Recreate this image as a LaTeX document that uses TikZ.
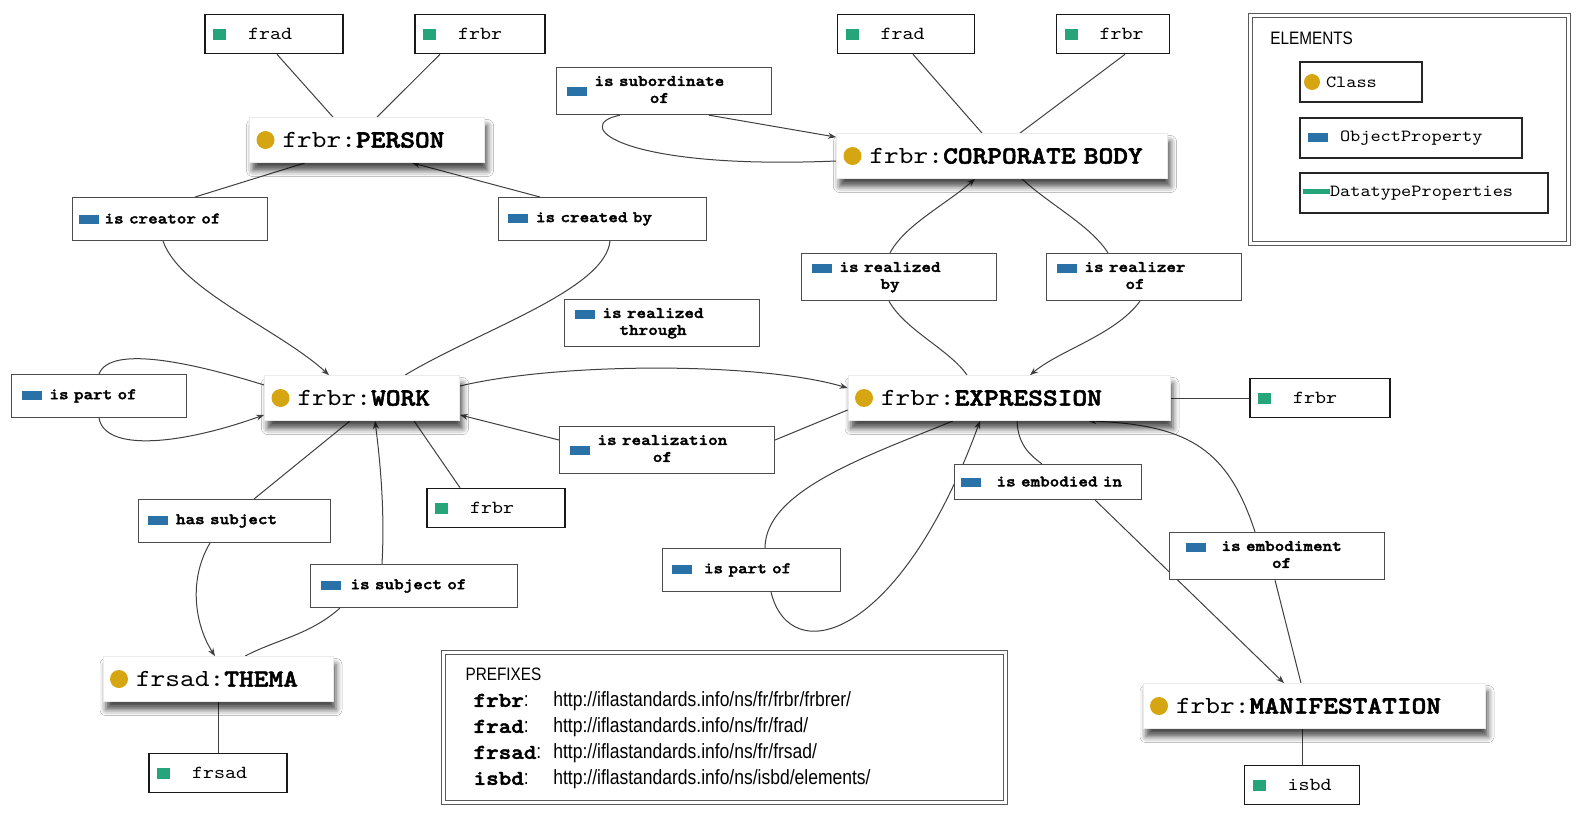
\documentclass[tikz,border=0pt]{standalone}
\usepackage{fontspec}
\usepackage{xcolor}
\newfontfamily\courfont[BoldFont=lmmonolt10-bold.otf, BoldFeatures={FakeBold=2.2}, FakeStretch=1.14]{lmmono10-regular.otf}
\newfontfamily\legfont[FakeStretch=0.85]{Liberation Sans}
\usetikzlibrary{arrows.meta,shadows.blur}

\definecolor{clgold}{RGB}{214,166,18}
\definecolor{opblue}{RGB}{42,113,168}
\definecolor{dpgreen}{RGB}{38,165,122}

\pgfdeclarelayer{bg}
\pgfsetlayers{bg,main}

\newcommand{\opm}{\textcolor{opblue}{\rule[-0.5pt]{10pt}{4.5pt}}}
\newcommand{\dpm}{\textcolor{dpgreen}{\rule[-0.5pt]{6.5pt}{5.5pt}}}
\newcommand{\pfx}[1]{{\fontsize{10.5}{13}\selectfont\courfont\bfseries #1}}

\tikzset{
  cls/.style={fill=white, draw=black!8, text width=#1, inner xsep=0pt,
    minimum height=22.5pt, align=left,
    font=\fontsize{12.3}{14}\selectfont\courfont,
    blur shadow={shadow xshift=1.5pt, shadow yshift=-4pt, shadow blur radius=3pt, shadow opacity=70},
    path picture={\fill[clgold] ([xshift=8pt]path picture bounding box.west) circle (4.5pt);}},
  prop/.style={fill=white, draw=black!70, line width=0.5pt, text width=#1,
    inner xsep=0pt, minimum height=21.5pt, align=left,
    font=\fontsize{8}{8.5}\selectfont\courfont\bfseries},
  dtp/.style={fill=white, draw=black!90, line width=0.8pt, text width=#1,
    inner xsep=0pt, minimum height=19.5pt, align=left,
    font=\fontsize{9.2}{11}\selectfont\courfont},
  leg/.style={fill=white, draw=black!85, line width=0.6pt, text width=#1,
    inner xsep=0pt, minimum height=20pt, align=left,
    font=\fontsize{8.5}{10}\selectfont\courfont},
  legdot/.style={path picture={\fill[clgold] ([xshift=6pt]path picture bounding box.west) circle (4pt);}},
  dblframe/.style={draw=black!65, line width=0.6pt, double=white, double distance=1.5pt},
  rel/.style={draw=black!75, line width=0.5pt},
  relto/.style={rel, -{Stealth[length=4pt,width=3pt]}}
}

\begin{document}
\begin{tikzpicture}[x=0.5pt,y=-0.5pt]
	\useasboundingbox (0,0) rectangle (1593,816);
	%% classes
	\node[cls=117.5pt] (person) at (367,140) {\hspace*{16.5pt}frbr:\textbf{PERSON}};
	\node[cls=165.5pt] (corp) at (1002,156) {\hspace*{16.5pt}frbr:\textbf{CORPORATE BODY}};
	\node[cls=97.5pt] (work) at (362,398) {\hspace*{16.5pt}frbr:\textbf{WORK}};
	\node[cls=161pt] (expr) at (1009,398) {\hspace*{16.5pt}frbr:\textbf{EXPRESSION}};
	\node[cls=115pt] (thema) at (218,679) {\hspace*{16.5pt}frsad:\textbf{THEMA}};
	\node[cls=171pt] (manif) at (1314,706) {\hspace*{16.5pt}frbr:\textbf{MANIFESTATION}};
	%% datatype properties
	\node[dtp=69pt] (pfrad) at (274,34) {\hspace*{4pt}\dpm\hspace{11pt}frad};
	\node[dtp=65pt] (pfrbr) at (480,34) {\hspace*{4pt}\dpm\hspace{11pt}frbr};
	\node[dtp=68.5pt] (cfrad) at (906,34) {\hspace*{4pt}\dpm\hspace{11pt}frad};
	\node[dtp=56.5pt] (cfrbr) at (1113,34) {\hspace*{4pt}\dpm\hspace{11pt}frbr};
	\node[dtp=70pt] (efrbr) at (1320,398) {\hspace*{4pt}\dpm\hspace{11pt}frbr};
	\node[dtp=69pt] (wfrbr) at (496,508) {\hspace*{4pt}\dpm\hspace{11pt}frbr};
	\node[dtp=69pt] (tfrsad) at (218,773) {\hspace*{4pt}\dpm\hspace{11pt}frsad};
	\node[dtp=57.5pt] (misbd) at (1302,785) {\hspace*{4pt}\dpm\hspace{11pt}isbd};
	%% object properties
	\node[prop=97.5pt] (creator) at (170,219) {\hspace*{3pt}\opm\hspace{3pt}is creator of};
	\node[prop=104pt] (createdby) at (602,219) {\hspace*{5pt}\opm\hspace{4pt}is created by};
	\node[prop=107.5pt] (subord) at (664,91) {\hspace*{5pt}\opm\hspace{4pt}\begin{tabular}[c]{@{}c@{}}is subordinate\\of\end{tabular}};
	\node[prop=97.5pt] (realizedby) at (899,277) {\hspace*{5pt}\opm\hspace{4pt}\begin{tabular}[t]{@{}c@{}}is realized\\by\end{tabular}};
	\node[prop=97.5pt] (realizer) at (1144,277) {\hspace*{5pt}\opm\hspace{4pt}\begin{tabular}[t]{@{}c@{}}is realizer\\of\end{tabular}};
	\node[prop=97.5pt] (through) at (662,323) {\hspace*{5pt}\opm\hspace{4pt}\begin{tabular}[t]{@{}c@{}}is realized\\through\end{tabular}};
	\node[prop=87.5pt] (wpart) at (99,396) {\hspace*{5pt}\opm\hspace{4pt}is part of};
	\node[prop=107.5pt] (realization) at (667,450) {\hspace*{5pt}\opm\hspace{4pt}\begin{tabular}[c]{@{}c@{}}is realization\\of\end{tabular}};
	\node[prop=93.5pt, minimum height=17.5pt] (embodied) at (1048,482) {\hspace*{3pt}\opm\hspace{8pt}is embodied in};
	\node[prop=96pt] (hassubj) at (234,521) {\hspace*{5pt}\opm\hspace{4pt}has subject};
	\node[prop=89pt] (epart) at (751,570) {\hspace*{5pt}\opm\hspace{6pt}is part of};
	\node[prop=103.5pt] (subjof) at (414,586) {\hspace*{5pt}\opm\hspace{5pt}is subject of};
	\node[prop=107.5pt, minimum height=19.5pt] (embodiment) at (1277,556) {\hspace*{8pt}\opm\hspace{8pt}\begin{tabular}[t]{@{}c@{}}is embodiment\\of\end{tabular}};
	%% legend
	\node[dblframe, anchor=north west, minimum width=159pt, minimum height=114pt] (elements) at (1250,15) {};
	\node[anchor=west, inner sep=0pt, font=\legfont\fontsize{9}{11}\selectfont] (eltitle) at (1270,38) {ELEMENTS};
	\node[leg=61pt, legdot] (lgclass) at (1361,82) {\hspace*{13pt}Class};
	\node[leg=111pt] (lgop) at (1411,138) {\hspace*{4pt}\opm\hspace{6pt}ObjectProperty};
	\node[leg=124pt] (lgdp) at (1424,193) {\hspace*{1.5pt}\textcolor{dpgreen}{\rule[1pt]{13.5pt}{2.5pt}}DatatypeProperties};
	%% prefixes
	\node[dblframe, anchor=north west, text width=269pt, inner xsep=6pt, minimum height=75pt, align=left,
	  font=\legfont\fontsize{10.3}{13}\selectfont] (prefixes) at (443,652) {%
	  \begin{tabular}{@{}l@{\hspace{6pt}}l@{}}
	  \multicolumn{2}{@{}l@{}}{\hspace*{5pt}{\fontsize{9}{13}\selectfont PREFIXES}}\\
	  \hspace*{9pt}\pfx{frbr}: & http://iflastandards.info/ns/fr/frbr/frbrer/\\
	  \hspace*{9pt}\pfx{frad}: & http://iflastandards.info/ns/fr/frad/\\
	  \hspace*{9pt}\pfx{frsad}: & http://iflastandards.info/ns/fr/frsad/\\
	  \hspace*{9pt}\pfx{isbd}: & http://iflastandards.info/ns/isbd/elements/
	  \end{tabular}};
	%%% edges
	\begin{pgfonlayer}{bg}
	\fill[white] (0,0) rectangle (1593,816);
	\draw[rel] ([xshift=1.5pt]pfrad.south) -- ([xshift=-17pt]person.north);
	\draw[rel] ([xshift=-20pt]pfrbr.south) -- ([xshift=5pt]person.north);
	\draw[rel] ([xshift=3.5pt]cfrad.south) -- ([xshift=-10pt]corp.north);
	\draw[rel] ([xshift=6pt]cfrbr.south) -- ([xshift=9pt]corp.north);
	\draw[rel] ([xshift=-31pt]person.south) -- ([xshift=12.5pt]creator.north);
	\draw[relto] ([xshift=-3.5pt]creator.south) .. controls (180,290) and (280,330) .. ([xshift=-16.5pt]work.north);
	\draw[rel] ([xshift=21.5pt]work.north) .. controls (480,330) and (605,290) .. ([xshift=4pt]createdby.south);
	\draw[relto] ([xshift=-31pt]createdby.north) -- ([xshift=22.5pt]person.south);
	\draw[relto] ([xshift=22.5pt]subord.south) -- ([yshift=-2pt]corp.north west);
	\draw[rel] ([yshift=-2.5pt]corp.west) .. controls (620,170) and (570,125) .. ([xshift=-22pt]subord.south);
	\draw[rel] ([yshift=6.5pt]work.west) .. controls (190,362) and (110,345) .. (wpart.north);
	\draw[relto] (wpart.south) .. controls (105,452) and (180,445) .. ([yshift=3pt]work.south west);
	\draw[relto] ([yshift=6pt]work.east) .. controls (560,362) and (760,362) .. ([yshift=5pt]expr.west);
	\draw[rel] ([yshift=-6pt]expr.west) -- ([yshift=5pt]realization.east);
	\draw[relto] ([yshift=5pt]realization.west) -- ([yshift=3pt]work.south east);
	\draw[relto] ([xshift=-4.5pt]realizedby.north) .. controls (905,225) and (945,205) .. ([xshift=-13.5pt]corp.south);
	\draw[rel] ([xshift=-5pt]realizedby.south) .. controls (905,330) and (950,350) .. ([xshift=-21pt]expr.north);
	\draw[rel] ([xshift=10pt]corp.south) .. controls (1050,205) and (1090,225) .. ([xshift=-18pt]realizer.north);
	\draw[relto] ([xshift=-2pt]realizer.south) .. controls (1115,335) and (1060,350) .. ([xshift=10.5pt]expr.north);
	\draw[rel] (expr.east) -- (efrbr.west);
	\draw[rel] ([xshift=4pt]expr.south) .. controls (1018,445) and (1030,455) .. ([xshift=-3pt]embodied.north);
	\draw[relto] ([xshift=23.5pt]embodied.south) -- ([xshift=-15pt]manif.north);
	\draw[rel] ([xshift=-6.5pt]manif.north) -- ([xshift=-1pt]embodiment.south);
	\draw[relto] ([xshift=-11pt]embodiment.north) .. controls (1228,450) and (1190,425) .. ([xshift=-41pt]expr.south east);
	\draw[rel] ([xshift=-28pt]expr.south) .. controls (870,455) and (765,490) .. ([xshift=7pt]epart.north);
	\draw[relto] ([xshift=10pt]epart.south) .. controls (790,670) and (900,640) .. ([xshift=-14.5pt]expr.south);
	\draw[rel] ([xshift=-6pt]work.south) -- ([xshift=10pt]hassubj.north);
	\draw[relto] ([xshift=-12pt]hassubj.south) .. controls (188,580) and (195,625) .. ([xshift=-1.5pt]thema.north);
	\draw[relto] ([xshift=-16pt]subjof.north) .. controls (385,510) and (380,460) .. ([xshift=6.5pt]work.south);
	\draw[rel] ([xshift=-37pt]subjof.south) .. controls (310,635) and (275,640) .. ([xshift=13.5pt]thema.north);
	\draw[rel] ([xshift=26pt]work.south) -- ([xshift=-18pt]wfrbr.north);
	\draw[rel] (thema.south) -- (tfrsad.north);
	\draw[rel] (manif.south -| misbd.north) -- (misbd.north);
	\end{pgfonlayer}
\end{tikzpicture}
\end{document}
